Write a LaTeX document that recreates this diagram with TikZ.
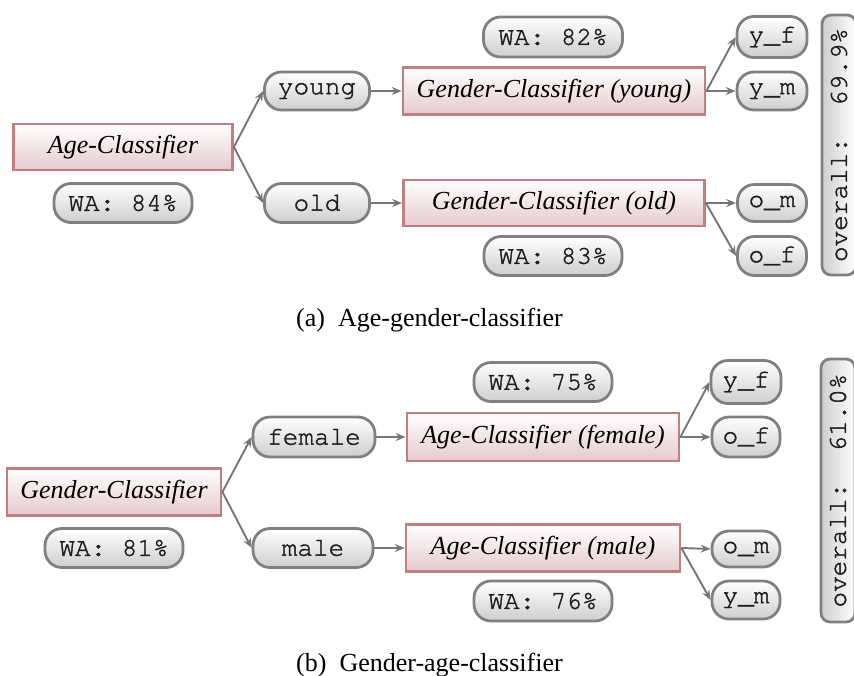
\documentclass[tikz,border=0pt]{standalone}
\usepackage{fontspec}
\setmainfont{Liberation Serif}
\setmonofont[FakeBold=1.5]{texgyrecursor-regular.otf}
\usetikzlibrary{arrows.meta}
\definecolor{pillborder}{RGB}{128,128,128}
\definecolor{pillbot}{RGB}{206,206,206}
\definecolor{clsborder}{RGB}{192,128,128}
\definecolor{clsbot}{RGB}{230,202,205}
\definecolor{arrowgray}{RGB}{118,118,118}
\definecolor{monotext}{RGB}{30,30,30}
\begin{document}
\begin{tikzpicture}[x=1pt,y=-1pt,
  cls/.style={draw=clsborder, line width=2.8pt, top color=white, bottom color=clsbot,
    font=\fontsize{26}{30}\selectfont\itshape, inner sep=0pt, text=black},
  pill/.style={draw=pillborder, line width=2.8pt, rounded corners=17pt, top color=white,
    bottom color=pillbot, font=\fontsize{26}{30}\selectfont\ttfamily, inner sep=0pt, text=monotext},
  overallbox/.style={draw=pillborder, line width=2.8pt, rounded corners=9pt,
    left color=pillbot, right color=white, rotate=90,
    font=\fontsize{26}{30}\selectfont\ttfamily, inner sep=0pt, text=monotext},
  conn/.style={draw=arrowgray, line width=1.9pt, -{Stealth[length=10pt,width=8pt,inset=3.5pt]}},
  captext/.style={font=\fontsize{26}{30}\selectfont, anchor=base west, inner sep=0pt}]
\useasboundingbox (0,0) rectangle (854,675);
\clip (0,0) rectangle (854,675);

% ---------- (a) ----------
\node[cls, minimum width=219pt, minimum height=46pt] (ac) at (123,147) {Age-Classifier};
\node[pill, minimum width=138pt, minimum height=39pt] (wa84) at (123,203) {WA: 84\%};
\node[pill, minimum width=105pt, minimum height=38pt] (young) at (317,91) {young};
\node[pill, minimum width=105pt, minimum height=39pt] (old) at (317,203) {old};
\node[cls, minimum width=302pt, minimum height=47pt] (gcy) at (554,91) {Gender-Classifier (young)};
\node[cls, minimum width=301pt, minimum height=46pt] (gco) at (554,203) {Gender-Classifier (old)};
\node[pill, minimum width=139pt, minimum height=40pt] (wa82) at (553,37) {WA: 82\%};
\node[pill, minimum width=138pt, minimum height=39pt] (wa83) at (553,256) {WA: 83\%};
\node[pill, minimum width=70pt, minimum height=41pt] (yf) at (772,37) {y\_f};
\node[pill, minimum width=70pt, minimum height=38pt] (ym) at (772,91) {y\_m};
\node[pill, minimum width=69pt, minimum height=37pt] (om) at (772,203) {o\_m};
\node[pill, minimum width=69pt, minimum height=39pt] (of) at (772,256) {o\_f};
\node[overallbox, minimum width=260pt, minimum height=34pt] (ova) at (839,145) {overall:\ \ 69.9\%};

\draw[conn] (ac.east) -- (young.west);
\draw[conn] (ac.east) -- (old.west);
\draw[conn] (young.east) -- (gcy.west);
\draw[conn] (old.east) -- (gco.west);
\draw[conn] (gcy.east) -- (yf.west);
\draw[conn] (gcy.east) -- (ym.west);
\draw[conn] (gco.east) -- (om.west);
\draw[conn] (gco.east) -- (of.west);

\node[captext] (capa) at (296,326) {(a)\hspace{0.5em}Age-gender-classifier};

% ---------- (b) ----------
\node[cls, minimum width=214pt, minimum height=47pt] (gc) at (114,492) {Gender-Classifier};
\node[pill, minimum width=138pt, minimum height=39pt] (wa81) at (114,548) {WA: 81\%};
\node[pill, minimum width=122pt, minimum height=40pt] (female) at (314,437) {female};
\node[pill, minimum width=120pt, minimum height=39pt] (male) at (313,548) {male};
\node[cls, minimum width=272pt, minimum height=48pt] (acf) at (543,437) {Age-Classifier (female)};
\node[cls, minimum width=274pt, minimum height=47pt] (acm) at (543,548) {Age-Classifier (male)};
\node[pill, minimum width=138pt, minimum height=39pt] (wa75) at (543,382) {WA: 75\%};
\node[pill, minimum width=138pt, minimum height=40pt] (wa76) at (543,601) {WA: 76\%};
\node[pill, minimum width=70pt, minimum height=43pt] (yf2) at (746,382) {y\_f};
\node[pill, minimum width=68pt, minimum height=40pt] (of2) at (746,437) {o\_f};
\node[pill, minimum width=68pt, minimum height=36pt] (om2) at (746,549) {o\_m};
\node[pill, minimum width=68pt, minimum height=38pt] (ym2) at (746,600) {y\_m};
\node[overallbox, minimum width=263pt, minimum height=34pt] (ovb) at (838,490.5) {overall:\ \ 61.0\%};

\draw[conn] (gc.east) -- (female.west);
\draw[conn] (gc.east) -- (male.west);
\draw[conn] (female.east) -- (acf.west);
\draw[conn] (male.east) -- (acm.west);
\draw[conn] (acf.east) -- (yf2.west);
\draw[conn] (acf.east) -- (of2.west);
\draw[conn] (acm.east) -- (om2.west);
\draw[conn] (acm.east) -- (ym2.west);

\node[captext] (capb) at (296,671) {(b)\hspace{0.5em}Gender-age-classifier};
\end{tikzpicture}
\end{document}
